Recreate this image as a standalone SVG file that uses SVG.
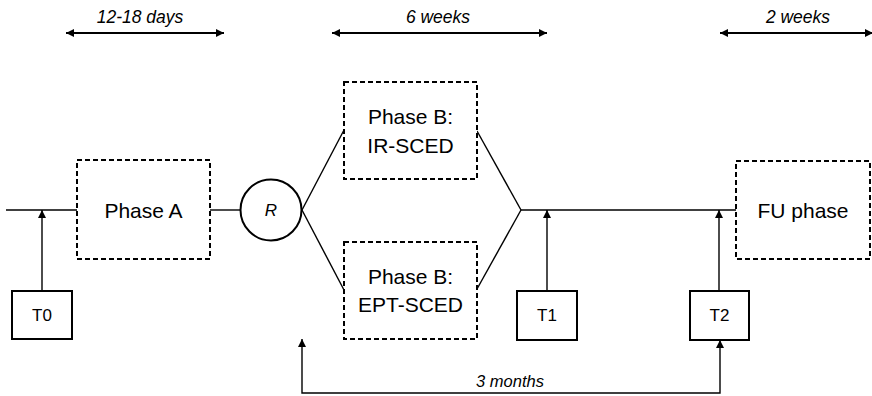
<svg xmlns="http://www.w3.org/2000/svg" width="872" height="396" viewBox="0 0 872 396">
<defs>
<marker id="ah" viewBox="0 0 10 10" refX="10" refY="5" markerWidth="10" markerHeight="8" markerUnits="userSpaceOnUse" orient="auto-start-reverse"><path d="M0,0 L10,5 L0,10 Z" fill="#000"/></marker>
<marker id="sh" viewBox="0 0 10 10" refX="10" refY="5" markerWidth="9" markerHeight="8" markerUnits="userSpaceOnUse" orient="auto-start-reverse"><path d="M0,0 L10,5 L0,10 Z" fill="#000"/></marker>
<style>
.phase{fill:#fff;stroke:#000;stroke-width:2;stroke-dasharray:5,3}
.tbox{fill:#fff;stroke:#000;stroke-width:2}
.ln{fill:none;stroke:#000;stroke-width:1.4}
.dur{fill:none;stroke:#000;stroke-width:2.2}
.pt{font-family:"Liberation Sans",Arial,sans-serif;font-size:21px;text-anchor:middle;fill:#000}
.tt{font-family:"Liberation Sans",Arial,sans-serif;font-size:17px;text-anchor:middle;fill:#000}
.it{font-family:"Liberation Sans",Arial,sans-serif;font-size:17.5px;font-style:italic;text-anchor:middle;fill:#000}
</style>
</defs>
<g id="connectors">
<line class="ln" x1="6" y1="210" x2="77" y2="210"/>
<line class="ln" x1="210" y1="210" x2="240" y2="210"/>
<line class="ln" x1="302" y1="210" x2="344" y2="130"/>
<line class="ln" x1="302" y1="210" x2="344" y2="290"/>
<line class="ln" x1="477" y1="131" x2="521" y2="210"/>
<line class="ln" x1="477" y1="289" x2="521" y2="210"/>
<line class="ln" x1="521" y1="210" x2="736" y2="210"/>
<line class="ln" x1="42" y1="291" x2="42" y2="210" marker-end="url(#sh)"/>
<line class="ln" x1="547" y1="291" x2="547" y2="210" marker-end="url(#sh)"/>
<line class="ln" x1="719" y1="291" x2="719" y2="210" marker-end="url(#sh)"/>
<polyline class="ln" points="302,339 302,393 720,393 720,340" marker-start="url(#sh)" marker-end="url(#sh)"/>
<line class="dur" x1="66" y1="33" x2="224" y2="33" marker-start="url(#ah)" marker-end="url(#ah)"/>
<line class="dur" x1="332" y1="33" x2="547" y2="33" marker-start="url(#ah)" marker-end="url(#ah)"/>
<line class="dur" x1="720" y1="33" x2="873" y2="33" marker-start="url(#ah)" marker-end="url(#ah)"/>
</g>
<g id="label-12-18">
<text class="it" x="140" y="23">12-18 days</text>
</g>
<g id="label-6w">
<text class="it" x="438" y="23">6 weeks</text>
</g>
<g id="label-2w">
<text class="it" x="798" y="23">2 weeks</text>
</g>
<g id="label-3m">
<text class="it" x="510" y="387" style="font-size:16.5px">3 months</text>
</g>
<g id="phaseA">
<rect class="phase" x="77" y="160" width="133" height="99"/>
<text class="pt" x="143.5" y="217.5">Phase A</text>
</g>
<g id="R">
<circle cx="271" cy="210" r="30.5" fill="#fff" stroke="#000" stroke-width="2"/>
<text class="tt" x="271" y="216" style="font-style:italic">R</text>
</g>
<g id="phaseB-IR">
<rect class="phase" x="344" y="82" width="133" height="97"/>
<text class="pt" x="410.5" y="124">Phase B:</text>
<text class="pt" x="410.5" y="153">IR-SCED</text>
</g>
<g id="phaseB-EPT">
<rect class="phase" x="344" y="242" width="133" height="97"/>
<text class="pt" x="410.5" y="284">Phase B:</text>
<text class="pt" x="410.5" y="312">EPT-SCED</text>
</g>
<g id="FU">
<rect class="phase" x="736" y="161" width="134" height="98"/>
<text class="pt" x="803" y="217.5">FU phase</text>
</g>
<g id="T0">
<rect class="tbox" x="12" y="291" width="60" height="48"/>
<text class="tt" x="42" y="321">T0</text>
</g>
<g id="T1">
<rect class="tbox" x="517" y="291" width="60" height="49"/>
<text class="tt" x="547" y="321">T1</text>
</g>
<g id="T2">
<rect class="tbox" x="690" y="291" width="59" height="49"/>
<text class="tt" x="719.5" y="321">T2</text>
</g>
</svg>
